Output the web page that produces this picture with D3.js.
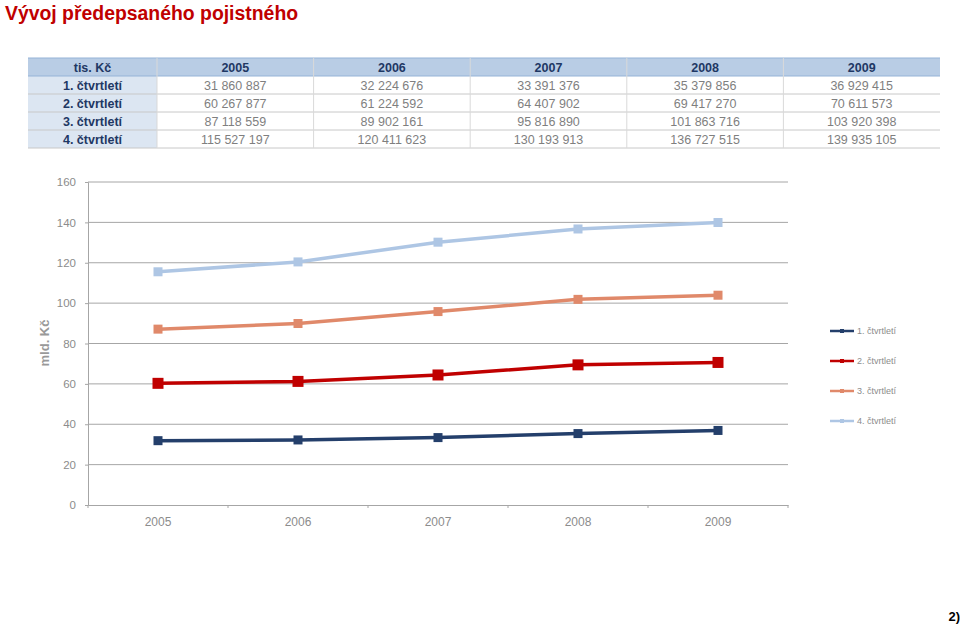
<!DOCTYPE html>
<html>
<head>
<meta charset="utf-8">
<script src="https://cdn.jsdelivr.net/npm/d3@7"></script>
<style>
  body { margin: 0; background: #fff; font-family: "Liberation Sans", Arial, sans-serif; }
</style>
</head>
<body>
<svg id="chart" width="960" height="625"></svg>
<script>
const years = ["2005", "2006", "2007", "2008", "2009"]
const quarters = ["1. čtvrtletí", "2. čtvrtletí", "3. čtvrtletí", "4. čtvrtletí"]
// tis. Kč
const q1 = [31860887, 32224676, 33391376, 35379856, 36929415]
const q2 = [60267877, 61224592, 64407902, 69417270, 70611573]
const q3 = [87118559, 89902161, 95816890, 101863716, 103920398]
const q4 = [115527197, 120411623, 130193913, 136727515, 139935105]
const yTicks = [0, 20, 40, 60, 80, 100, 120, 140, 160]

const seriesValues = [q1, q2, q3, q4]
const colors = ["#243f6b", "#c00000", "#e0896a", "#aec6e4"]
const markerSize = [9, 11, 9, 9]

const svg = d3.select("#chart")

// title
svg.append("text")
    .attr("x", 5).attr("y", 20)
    .attr("font-size", 19.4).attr("font-weight", "bold")
    .attr("fill", "#c00000")
    .text("Vývoj předepsaného pojistného")

// table
const fmt = v => String(v).replace(/\B(?=(\d{3})+(?!\d))/g, " ")
const tableLeft = 28, labelW = 129, colW = 156.6, rowH = 18, tableTop = 58
const colX = d3.scaleBand().domain(years).range([tableLeft + labelW, tableLeft + labelW + colW * years.length])
const rowY = d3.scaleBand().domain(["head"].concat(quarters)).range([tableTop, tableTop + rowH * 5])
const tableRight = tableLeft + labelW + colW * years.length

const table = svg.append("g")
table.append("rect")
    .attr("x", tableLeft).attr("y", rowY("head"))
    .attr("width", tableRight - tableLeft).attr("height", rowH)
    .attr("fill", "#b9cde5")
quarters.forEach(q => {
    table.append("rect")
        .attr("x", tableLeft).attr("y", rowY(q))
        .attr("width", labelW).attr("height", rowH)
        .attr("fill", "#dce6f2")
})
// row lines
rowY.domain().forEach((r, i) => {
    table.append("line")
        .attr("x1", tableLeft).attr("x2", tableRight)
        .attr("y1", rowY(r) + rowH).attr("y2", rowY(r) + rowH)
        .attr("stroke", i === 0 ? "#95b3d7" : "#c8c8c8").attr("stroke-width", 1)
})
table.append("line")
    .attr("x1", tableLeft).attr("x2", tableRight)
    .attr("y1", tableTop).attr("y2", tableTop)
    .attr("stroke", "#95b3d7")
// column lines
years.forEach(y => {
    table.append("line")
        .attr("x1", colX(y)).attr("x2", colX(y))
        .attr("y1", tableTop).attr("y2", tableTop + rowH * 5)
        .attr("stroke", "#d9d9d9")
})

table.append("text")
    .attr("x", tableLeft + labelW / 2).attr("y", rowY("head") + 13.5)
    .attr("text-anchor", "middle").attr("font-size", 12.5).attr("font-weight", "bold")
    .attr("fill", "#1f3864").text("tis. Kč")
years.forEach(y => {
    table.append("text")
        .attr("x", colX(y) + colX.bandwidth() / 2).attr("y", rowY("head") + 13.5)
        .attr("text-anchor", "middle").attr("font-size", 12.5).attr("font-weight", "bold")
        .attr("fill", "#1f3864").text(y)
})
quarters.forEach((q, qi) => {
    table.append("text")
        .attr("x", tableLeft + labelW / 2).attr("y", rowY(q) + 13.5)
        .attr("text-anchor", "middle").attr("font-size", 12.5).attr("font-weight", "bold")
        .attr("fill", "#1f3864").text(q)
    years.forEach((y, yi) => {
        table.append("text")
            .attr("x", colX(y) + colX.bandwidth() / 2).attr("y", rowY(q) + 13.5)
            .attr("text-anchor", "middle").attr("font-size", 12.5)
            .attr("fill", "#7f7f7f").text(fmt(seriesValues[qi][yi]))
    })
})

// chart
const x = d3.scaleBand().domain(years).range([88, 788])
const y = d3.scaleLinear().domain([0, 160]).range([505, 182])

const grid = svg.append("g")
grid.selectAll("line").data(yTicks.slice(1)).enter().append("line")
    .attr("x1", 88).attr("x2", 788)
    .attr("y1", d => y(d)).attr("y2", d => y(d))
    .attr("stroke", "#a6a6a6").attr("stroke-width", 1)

const yAxis = svg.append("g")
    .attr("transform", "translate(88,0)")
    .call(d3.axisLeft(y).tickValues(yTicks).tickSize(3).tickPadding(9))
yAxis.select(".domain").attr("stroke", "#a6a6a6")
yAxis.selectAll(".tick line").attr("stroke", "#a6a6a6")
yAxis.selectAll("text").attr("fill", "#8c8c8c").attr("font-size", 11.5)
    .attr("font-family", "Liberation Sans, Arial, sans-serif")

const xAxis = svg.append("g")
    .attr("transform", "translate(0,505)")
    .call(d3.axisBottom(x).tickSize(0).tickPadding(12))
xAxis.select(".domain").attr("stroke", "#a6a6a6")
xAxis.selectAll("text").attr("fill", "#8c8c8c").attr("font-size", 12)
    .attr("font-family", "Liberation Sans, Arial, sans-serif")
xAxis.selectAll(".bnd").data(years.concat(["end"])).enter().append("line")
    .attr("x1", (d, i) => 88 + i * x.bandwidth()).attr("x2", (d, i) => 88 + i * x.bandwidth())
    .attr("y1", 0).attr("y2", 3).attr("stroke", "#a6a6a6")

svg.append("text")
    .attr("transform", "translate(49,343) rotate(-90)")
    .attr("text-anchor", "middle").attr("font-size", 13).attr("font-weight", "bold")
    .attr("fill", "#999999").text("mld. Kč")

const line = d3.line()
    .x((d, i) => x(years[i]) + x.bandwidth() / 2)
    .y(d => y(d / 1e6))

seriesValues.forEach((vals, si) => {
    const g = svg.append("g")
    g.append("path")
        .attr("d", line(vals))
        .attr("fill", "none").attr("stroke", colors[si]).attr("stroke-width", 3.5)
    g.selectAll("rect").data(vals).enter().append("rect")
        .attr("x", (d, i) => x(years[i]) + x.bandwidth() / 2 - markerSize[si] / 2)
        .attr("y", d => y(d / 1e6) - markerSize[si] / 2)
        .attr("width", markerSize[si]).attr("height", markerSize[si])
        .attr("fill", colors[si])
})

// legend
const legend = svg.append("g")
quarters.forEach((q, i) => {
    const ly = 331 + i * 30
    legend.append("line")
        .attr("x1", 830).attr("x2", 854).attr("y1", ly).attr("y2", ly)
        .attr("stroke", colors[i]).attr("stroke-width", 2.5)
    legend.append("rect")
        .attr("x", 840).attr("y", ly - 2).attr("width", 4).attr("height", 4)
        .attr("fill", colors[i])
    legend.append("text")
        .attr("x", 857).attr("y", ly + 3)
        .attr("font-size", 9).attr("fill", "#8c8c8c").text(q)
})

svg.append("text")
    .attr("x", 960).attr("y", 621)
    .attr("text-anchor", "end").attr("font-size", 13).attr("font-weight", "bold")
    .attr("fill", "#000").text("2)")
</script>
</body>
</html>
